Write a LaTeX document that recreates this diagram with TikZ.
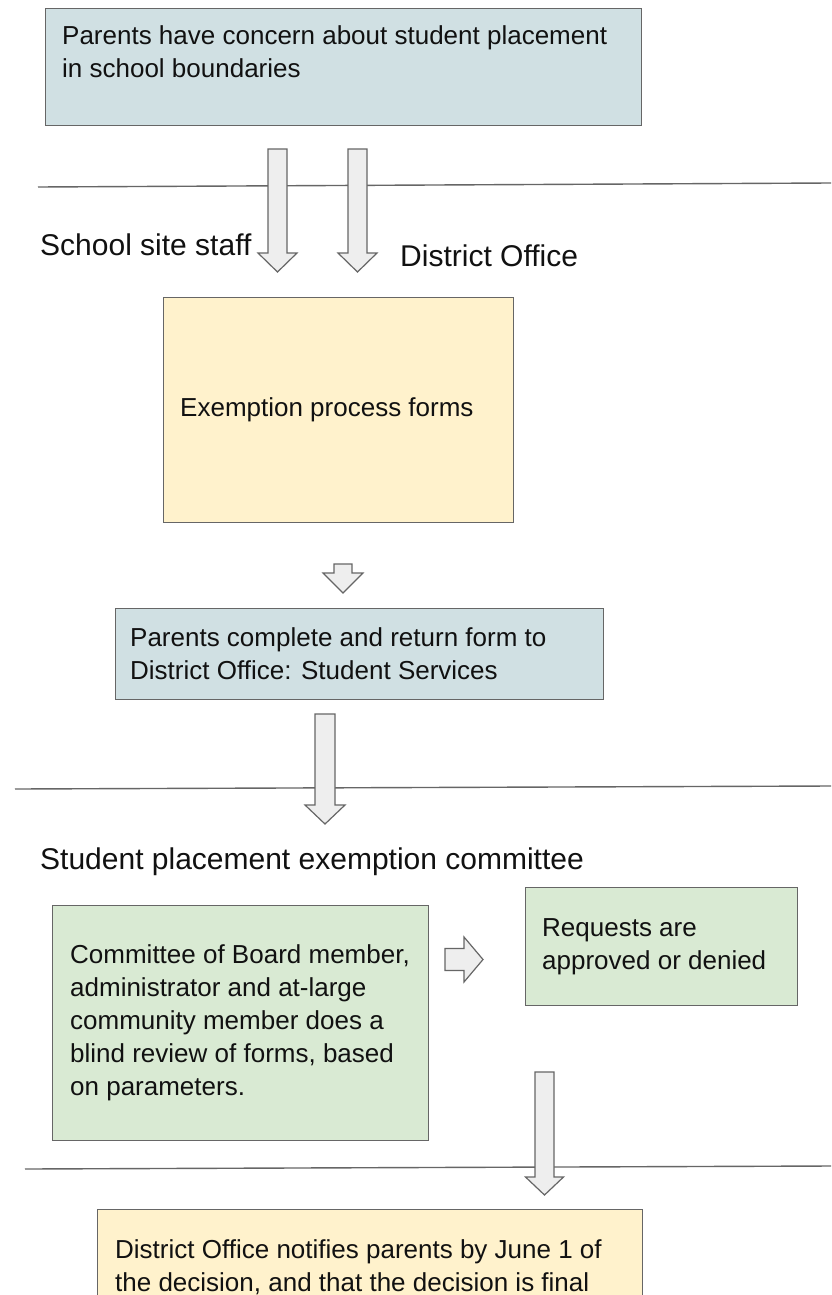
\documentclass[tikz,border=0pt]{standalone}
\usepackage{fontspec}
\setmainfont{Liberation Sans}
\definecolor{bluebox}{HTML}{D0E0E3}
\definecolor{yellowbox}{HTML}{FFF2CC}
\definecolor{greenbox}{HTML}{D9EAD3}
\definecolor{edgegray}{HTML}{666666}
\definecolor{arrowfill}{HTML}{EEEEEE}
\definecolor{inkcol}{HTML}{111111}
\newcommand\dnarrow[6]{\filldraw[blockarr] ({#1-#4},#2) -- ({#1+#4},#2) -- ({#1+#4},#3) -- ({#1+#5},#3) -- (#1,#6) -- ({#1-#5},#3) -- ({#1-#4},#3) -- cycle;}
\begin{document}
\begin{tikzpicture}[x=1pt,y=-1pt,
  boxshape/.style={draw=edgegray, line width=1.3pt, anchor=north west, inner sep=0pt},
  boxtext/.style={anchor=west, inner sep=0pt, align=left, text=inkcol, font=\fontsize{26}{33}\selectfont},
  headtext/.style={anchor=west, inner sep=0pt, text=inkcol, font=\fontsize{30}{33}\selectfont},
  sepline/.style={draw=edgegray, line width=1.4pt},
  blockarr/.style={draw=edgegray, fill=arrowfill, line width=1.2pt, line join=miter}]
\clip (0,0) rectangle (831,1295);
\fill[white] (0,0) rectangle (831,1295);

% separator lines
\coordinate (s1a) at (38,187); \coordinate (s1b) at (831,183);
\coordinate (s2a) at (15,789); \coordinate (s2b) at (831,786);
\coordinate (s3a) at (25,1169); \coordinate (s3b) at (831,1166);
\draw[sepline] (s1a) -- (s1b);
\draw[sepline] (s2a) -- (s2b);
\draw[sepline] (s3a) -- (s3b);

% boxes
\node[boxshape, fill=bluebox, minimum width=596pt, minimum height=117pt] (concern) at (45,8) {};
\node[boxtext, anchor=north west] (concerntxt) at (62,25) {Parents have concern about student placement\\in school boundaries};

\node[boxshape, fill=yellowbox, minimum width=350pt, minimum height=225pt] (forms) at (163,297) {};
\node[boxtext] (formstxt) at ([xshift=17pt]forms.west) {Exemption process forms};

\node[boxshape, fill=bluebox, minimum width=488pt, minimum height=91pt] (complete) at (115,608) {};
\node[boxtext] (completetxt) at ([xshift=15pt]complete.west) {Parents complete and return form to\\District Office: Student Services};

\node[boxshape, fill=greenbox, minimum width=376pt, minimum height=235pt] (committee) at (52,905) {};
\node[boxtext] (committeetxt) at ([xshift=18pt]committee.west) {Committee of Board member,\\administrator and at-large\\community member does a\\blind review of forms, based\\on parameters.};

\node[boxshape, fill=greenbox, minimum width=272pt, minimum height=118pt] (requests) at (525,887) {};
\node[boxtext] (requeststxt) at ([xshift=17pt]requests.west) {Requests are\\approved or denied};

\node[boxshape, fill=yellowbox, minimum width=545pt, minimum height=115pt] (notify) at (97,1209) {};
\node[boxtext] (notifytxt) at ([xshift=18pt]notify.west) {District Office notifies parents by June 1 of\\the decision, and that the decision is final};

% headings
\node[headtext] (sitestaff) at (40,245) {School site staff};
\node[headtext] (district) at (400,256) {District Office};
\node[headtext] (spec) at (40,862) {Student placement exemption committee};

% block arrows
\dnarrow{277.5}{149}{253}{9.5}{19.5}{272}
\dnarrow{357.5}{149}{253}{9.5}{19.5}{272}
\dnarrow{343}{564}{573}{9}{20}{593}
\dnarrow{325}{714}{805}{10}{20}{824}
\dnarrow{544.5}{1072}{1177}{9.5}{19}{1195}
\filldraw[blockarr] (445,948.5) -- (464,948.5) -- (464,937) -- (483,959.5) -- (464,982) -- (464,970.5) -- (445,970.5) -- cycle;
\end{tikzpicture}
\end{document}
